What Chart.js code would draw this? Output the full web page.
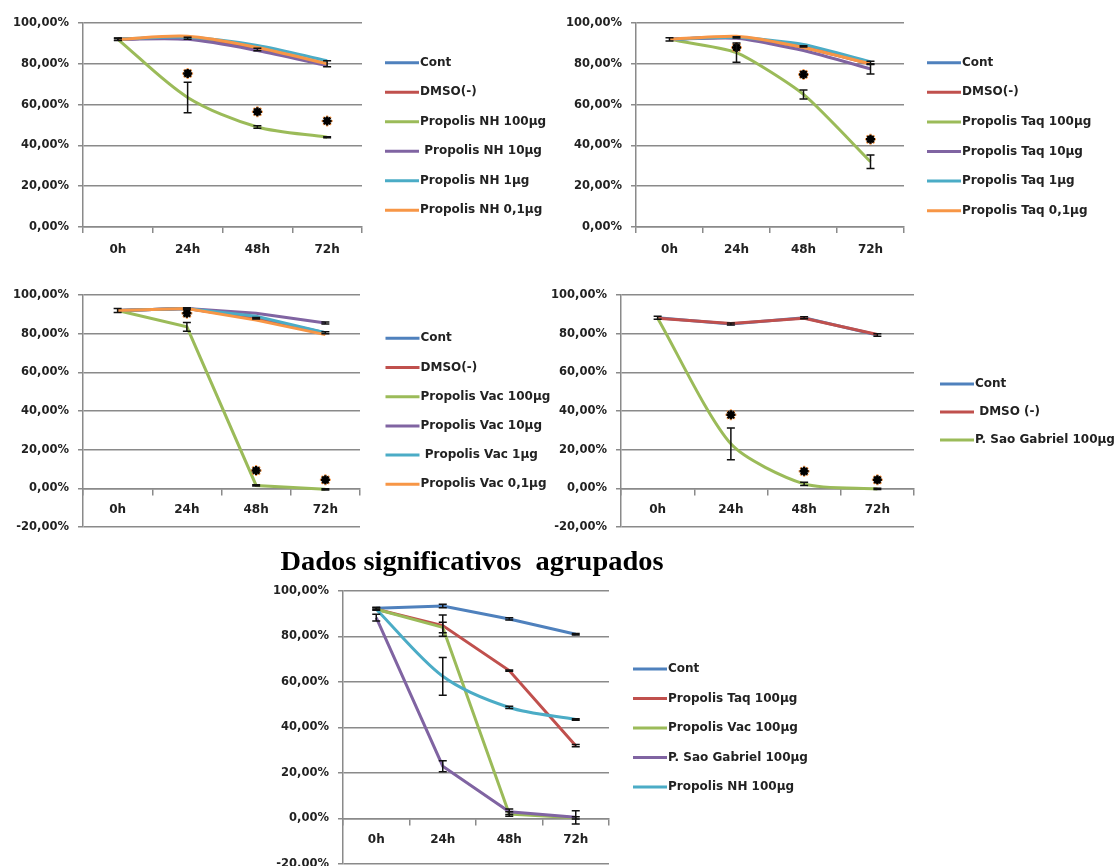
<!DOCTYPE html>
<html>
<head>
<meta charset="utf-8">
<title>Viabilidade celular - própolis</title>
<script src="https://cdn.jsdelivr.net/npm/chart.js@4.4.0/dist/chart.umd.min.js"></script>
<style>
  html, body { margin: 0; padding: 0; background: #fff; width: 1117px; height: 866px; overflow: hidden; }
  .panel { position: absolute; }
</style>
</head>
<body>
<div class="panel" style="left:0;top:0;width:560px;height:270px"><canvas id="chartNH"></canvas></div>
<div class="panel" style="left:560px;top:0;width:557px;height:270px"><canvas id="chartTaq"></canvas></div>
<div class="panel" style="left:0;top:270px;width:560px;height:275px"><canvas id="chartVac"></canvas></div>
<div class="panel" style="left:540px;top:270px;width:577px;height:275px"><canvas id="chartSG"></canvas></div>
<div class="panel" style="left:120px;top:545px;width:704px;height:340px"><canvas id="chartGrp"></canvas></div>
<script>
// ---- time points ----
const hours = ['0h', '24h', '48h', '72h'];

// ---- Propolis NH (% viable cells) ----
const nhCont = [92.0, 92.5, 87.0, 80.0];
const nhDmso = [92.0, 92.5, 87.0, 79.5];
const nh100  = [92.0, 63.5, 49.0, 44.0];
const nh10   = [92.0, 92.0, 86.5, 79.0];
const nh1    = [92.0, 93.0, 89.0, 81.5];
const nh01   = [92.0, 93.5, 88.0, 80.0];
const nhContErr = [0.6, 0.5, 0.6, 1.5];
const nh100Err  = [0.5, 7.5, 0.6, 0.3];
const nhStars   = [null, 75.3, 56.5, 52.0];

// ---- Propolis Taq ----
const taqCont = [92.0, 93.0, 88.5, 80.5];
const taqDmso = [92.0, 93.0, 88.0, 80.0];
const taq100  = [92.0, 85.5, 65.0, 32.0];
const taq10   = [92.0, 92.5, 86.5, 77.5];
const taq1    = [92.0, 93.0, 89.5, 81.0];
const taq01   = [92.0, 93.5, 88.0, 80.0];
const taqContErr = [0.8, 0.3, 0.3, 0.8];
const taq100Err  = [0, 4.7, 2.2, 3.3];
const taq10Err   = [0, 0, 0, 2.5];
const taqStars   = [null, 88.0, 74.8, 43.0];

// ---- Propolis Vac ----
const vacCont = [92.0, 93.0, 88.0, 80.5];
const vacDmso = [92.0, 93.0, 88.0, 80.0];
const vac100  = [92.0, 83.5, 1.5, -0.5];
const vac10   = [92.0, 93.0, 90.5, 85.5];
const vac1    = [92.0, 93.0, 89.0, 80.5];
const vac01   = [92.0, 93.0, 87.0, 79.5];
const vacContErr = [1.0, 0.4, 0.4, 0.5];
const vac100Err  = [0, 2.3, 0.3, 0.3];
const vac10Err   = [0, 0, 0, 0.5];
const vacStars   = [null, 90.5, 9.2, 4.4];

// ---- P. Sao Gabriel ----
const sgCont = [88.2, 85.0, 88.2, 79.3];
const sgDmso = [88.0, 85.3, 88.0, 79.6];
const sg100  = [88.0, 23.0, 2.3, -0.3];
const sgContErr = [0.8, 0.5, 0.5, 0.6];
const sg100Err  = [0, 8.2, 0.8, 0.3];
const sgStars   = [null, 38.0, 8.8, 4.4];

// ---- grouped significant data ----
const grpCont = [92.4, 93.4, 87.7, 81.0];
const grpTaq  = [92.0, 84.8, 65.0, 32.0];
const grpVac  = [92.0, 84.0, 2.0, 0.3];
const grpSg   = [88.3, 23.0, 3.0, 0.5];
const grpNh   = [92.0, 62.5, 48.8, 43.5];
const grpContErr = [0.5, 0.8, 0.5, 0.3];
const grpTaqErr  = [0, 4.7, 0.3, 0.5];
const grpVacErr  = [0, 2.3, 1.0, 0.5];
const grpSgErr   = [1.5, 2.4, 1.2, 2.9];
const grpNhErr   = [0.5, 8.3, 0.5, 0.3];

const C = {
  blue: '#4f81bd', red: '#c0504d', green: '#9bbb59',
  purple: '#8064a2', teal: '#4bacc6', orange: '#f79646'
};

Chart.defaults.font.family = '"DejaVu Sans", sans-serif';
Chart.defaults.font.weight = 'bold';
Chart.defaults.font.size = 11.5;
Chart.defaults.color = '#222';

const pctLabel = v => v.toFixed(2).replace('.', ',') + '%';

// legend drawn beside the plot: a short coloured line followed by the series name
const sideLegend = {
  id: 'sideLegend',
  afterDraw(chart, args, opts) {
    const { ctx, chartArea } = chart;
    const x0 = chartArea.right + opts.dx;
    let y = chartArea.top + opts.dy;
    ctx.save();
    ctx.font = 'bold 12px "DejaVu Sans"';
    ctx.textBaseline = 'middle';
    ctx.textAlign = 'left';
    chart.data.datasets.forEach(ds => {
      if (ds.skipLegend) return;
      ctx.strokeStyle = ds.borderColor;
      ctx.lineWidth = 3;
      ctx.beginPath();
      ctx.moveTo(x0, y);
      ctx.lineTo(x0 + 34, y);
      ctx.stroke();
      ctx.fillStyle = '#222';
      ctx.fillText(ds.label, x0 + 35, y);
      y += opts.gap;
    });
    ctx.restore();
  }
};

// vertical error bars with caps, from each dataset's err array
const errorBars = {
  id: 'errorBars',
  afterDatasetsDraw(chart) {
    const { ctx } = chart;
    const ys = chart.scales.y;
    ctx.save();
    ctx.strokeStyle = '#111';
    ctx.lineWidth = 1.5;
    chart.data.datasets.forEach((ds, i) => {
      if (!ds.err) return;
      const meta = chart.getDatasetMeta(i);
      meta.data.forEach((pt, j) => {
        const e = ds.err[j];
        if (!e) return;
        const v = ds.data[j];
        const top = ys.getPixelForValue(v + e);
        const bot = ys.getPixelForValue(v - e);
        const x = pt.x;
        ctx.beginPath();
        ctx.moveTo(x, top); ctx.lineTo(x, bot);
        ctx.moveTo(x - 4, top); ctx.lineTo(x + 4, top);
        ctx.moveTo(x - 4, bot); ctx.lineTo(x + 4, bot);
        ctx.stroke();
      });
    });
    ctx.restore();
  }
};

// wide bold serif heading above the grouped chart
const wideTitle = {
  id: 'wideTitle',
  afterDraw(chart, args, opts) {
    if (!opts || !opts.text) return;
    const { ctx } = chart;
    ctx.save();
    ctx.font = opts.font;
    ctx.fillStyle = '#000';
    ctx.textAlign = 'center';
    ctx.textBaseline = 'middle';
    const w = ctx.measureText(opts.text).width;
    ctx.translate(opts.x, opts.y);
    ctx.scale(opts.width / w, 1);
    ctx.fillText(opts.text, 0, 0);
    ctx.restore();
  }
};

function series(label, data, color, n, extra) {
  return Object.assign({
    label, data,
    borderColor: color, backgroundColor: color,
    borderWidth: 3, pointRadius: 0, pointHoverRadius: 0,
    fill: false, order: n
  }, extra || {});
}

function starMarks(data) {
  return [
    { label: 'sig-halo', data, skipLegend: true, showLine: false, order: -1,
      pointStyle: 'star', pointRadius: 5.5, pointBorderWidth: 2,
      pointBorderColor: C.orange, pointBackgroundColor: C.orange, borderColor: C.orange },
    { label: 'sig', data, skipLegend: true, showLine: false, order: -2,
      pointStyle: 'star', pointRadius: 4.5, pointBorderWidth: 2.5,
      pointBorderColor: '#000', pointBackgroundColor: '#000', borderColor: '#000' }
  ];
}

function makeChart(id, datasets, o) {
  const gridColor = '#8a8a8a';
  const xScale = {
    type: 'category', offset: true,
    grid: { offset: true, drawOnChartArea: false, drawTicks: true, tickLength: 6, color: gridColor, lineWidth: 1.5 },
    border: { display: true, color: gridColor, width: 1.5 },
    ticks: { padding: o.xAtZero ? 8 : 10, font: { size: 12, weight: 'bold' }, color: '#222', maxRotation: 0 }
  };
  if (o.xAtZero) {
    xScale.position = { y: 0 };
  } else {
    xScale.afterFit = s => { s.height = 30; };
  }
  return new Chart(document.getElementById(id), {
    type: 'line',
    data: { labels: hours, datasets },
    options: {
      responsive: true, maintainAspectRatio: false, animation: false,
      layout: { padding: o.pad },
      elements: { line: { tension: o.tension || 0, capBezierPoints: true } },
      scales: {
        x: xScale,
        y: {
          min: o.min, max: 100,
          afterFit: s => { s.width = o.yw; },
          grid: { color: gridColor, lineWidth: 1.5, tickLength: 5, drawTicks: true },
          border: { display: true, color: gridColor, width: 1.5 },
          ticks: { stepSize: 20, padding: 9, callback: pctLabel, color: '#222' }
        }
      },
      plugins: {
        legend: { display: false },
        tooltip: { enabled: false },
        title: { display: false },
        sideLegend: o.legend,
        wideTitle: o.heading || {}
      }
    },
    plugins: [sideLegend, errorBars, wideTitle]
  });
}

// Propolis NH
makeChart('chartNH', [
  series('Cont', nhCont, C.blue, 6, { err: nhContErr }),
  series('DMSO(-)', nhDmso, C.red, 5),
  series('Propolis NH 100µg', nh100, C.green, 4, { err: nh100Err }),
  series(' Propolis NH 10µg', nh10, C.purple, 3),
  series('Propolis NH 1µg', nh1, C.teal, 2),
  series('Propolis NH 0,1µg', nh01, C.orange, 1),
  ...starMarks(nhStars)
], { min: 0, yw: 75, tension: 0.3,
     pad: { left: 8, right: 198, top: 23, bottom: 13 },
     legend: { dx: 23, dy: 39.7, gap: 29.5 } });

// Propolis Taq
makeChart('chartTaq', [
  series('Cont', taqCont, C.blue, 6, { err: taqContErr }),
  series('DMSO(-)', taqDmso, C.red, 5),
  series('Propolis Taq 100µg', taq100, C.green, 4, { err: taq100Err }),
  series('Propolis Taq 10µg', taq10, C.purple, 3, { err: taq10Err }),
  series('Propolis Taq 1µg', taq1, C.teal, 2),
  series('Propolis Taq 0,1µg', taq01, C.orange, 1),
  ...starMarks(taqStars)
], { min: 0, yw: 75, tension: 0.2,
     pad: { left: 1, right: 213, top: 23, bottom: 13 },
     legend: { dx: 23, dy: 39.7, gap: 29.6 } });

// Propolis Vac
makeChart('chartVac', [
  series('Cont', vacCont, C.blue, 6, { err: vacContErr }),
  series('DMSO(-)', vacDmso, C.red, 5),
  series('Propolis Vac 100µg', vac100, C.green, 4, { err: vac100Err }),
  series('Propolis Vac 10µg', vac10, C.purple, 3, { err: vac10Err }),
  series(' Propolis Vac 1µg', vac1, C.teal, 2),
  series('Propolis Vac 0,1µg', vac01, C.orange, 1),
  ...starMarks(vacStars)
], { min: -20, yw: 75, xAtZero: true,
     pad: { left: 8, right: 200, top: 25, bottom: 18 },
     legend: { dx: 25.5, dy: 43.3, gap: 29.2 } });

// P. Sao Gabriel
makeChart('chartSG', [
  series('Cont', sgCont, C.blue, 3, { err: sgContErr }),
  series(' DMSO (-)', sgDmso, C.red, 2),
  series('P. Sao Gabriel 100µg', sg100, C.green, 1, { err: sg100Err, tension: 0.25 }),
  ...starMarks(sgStars)
], { min: -20, yw: 75, xAtZero: true,
     pad: { left: 6, right: 203, top: 25, bottom: 18 },
     legend: { dx: 26, dy: 89, gap: 28 } });

// grouped significant results
makeChart('chartGrp', [
  series('Cont', grpCont, C.blue, 5, { err: grpContErr }),
  series('Propolis Taq 100µg', grpTaq, C.red, 4, { err: grpTaqErr }),
  series('Propolis Vac 100µg', grpVac, C.green, 3, { err: grpVacErr }),
  series('P. Sao Gabriel 100µg', grpSg, C.purple, 2, { err: grpSgErr }),
  series('Propolis NH 100µg', grpNh, C.teal, 1, { err: grpNhErr, tension: 0.3 })
], { min: -20, yw: 75, xAtZero: true,
     pad: { left: 148, right: 215, top: 46, bottom: 21 },
     heading: { text: 'Dados significativos  agrupados', font: 'bold 27px "Liberation Serif"',
                x: 352, y: 18, width: 383 },
     legend: { dx: 24, dy: 78, gap: 29.5 } });
</script>
</body>
</html>
